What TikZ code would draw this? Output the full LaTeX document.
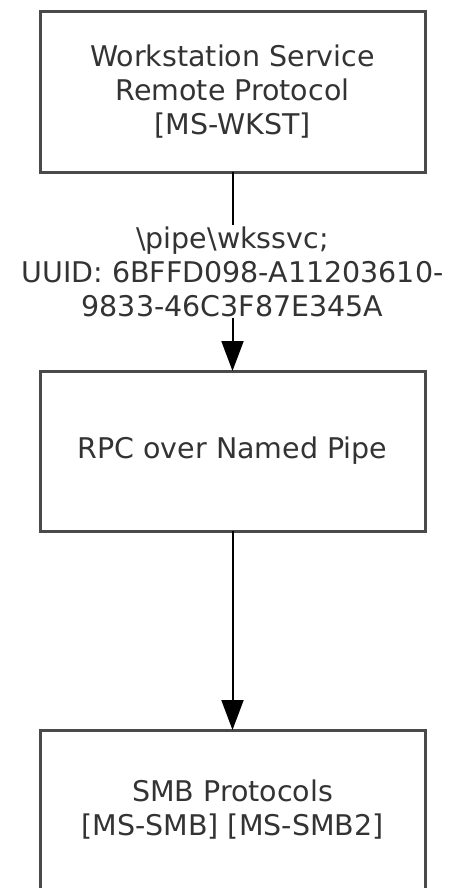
\documentclass[tikz,border=0pt]{standalone}
\usepackage{fontspec}
\setmainfont{DejaVu Sans}
\usepackage{xcolor}
\usetikzlibrary{arrows.meta,positioning}
\definecolor{BoxLine}{HTML}{4A4A4A}
\definecolor{BoxText}{HTML}{333333}

\begin{document}
\begin{tikzpicture}[
  node distance=199pt,
  box/.style={draw=BoxLine, line width=3pt, outer sep=0pt, minimum width=385pt, minimum height=160pt,
    align=center, text=BoxText, font=\fontsize{28.5}{34}\selectfont},
  arrow/.style={-{Triangle[width=22pt,length=30pt]}, line width=2pt},
  lbl/.style={fill=white, align=center, text=BoxText, inner sep=1pt, font=\fontsize{28.5}{34}\selectfont}
]
\clip (0,0) rectangle (451pt,-888pt);
\node[box] (wkst) at (232.5pt,-92pt) {Workstation Service\\Remote Protocol\\{[MS-WKST]}};
\node[box, below=of wkst] (rpc) {RPC over Named Pipe};
\node[box, below=of rpc] (smb) {SMB Protocols\\{[MS-SMB] [MS-SMB2]}};

\draw[arrow] (wkst) -- node[lbl] (pipe) {\textbackslash pipe\textbackslash wkssvc;\\UUID: 6BFFD098-A11203610-\\9833-46C3F87E345A} (rpc);
\draw[arrow] (rpc) -- (smb);
\end{tikzpicture}
\end{document}
